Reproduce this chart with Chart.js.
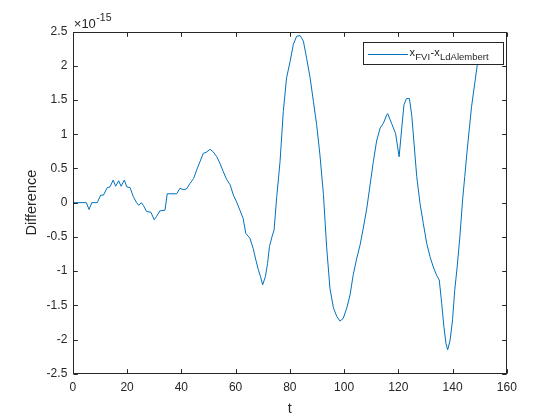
<!DOCTYPE html>
<html>
<head>
<meta charset="utf-8">
<script src="https://cdn.jsdelivr.net/npm/chart.js@4.4.1/dist/chart.umd.min.js"></script>
<style>
html,body{margin:0;padding:0;background:#ffffff;}
#wrap{width:560px;height:420px;}
</style>
</head>
<body>
<div id="wrap"><canvas id="c" width="560" height="420"></canvas></div>
<script>
// ---- data (values in units of 1e-15) ----
const tValues = [
  0,5,6,7,9,10.3,11.3,12.7,13.7,14.9,
  15.8,16.9,17.8,19,19.9,21.1,22.3,23.5,24.3,25.3,
  26,27.2,28.8,30,30.9,32.1,34,34.8,38.3,39.5,
  40.7,41.9,43.2,44.5,45.7,46.9,48.1,49.4,50.6,51.8,
  53.1,54.3,55.5,56.7,58,59.2,60.4,61.6,62.8,63.8,
  65.3,66.5,67.5,68.4,69.2,70,71,71.8,72.5,73.5,
  74.2,75.2,76.4,77.6,78.8,80.1,81.3,82.5,83.8,85,
  86.2,87.5,88.7,89.9,91.1,92.4,93.6,94.8,96.1,97.3,
  98.5,99.7,101,102.2,103.4,104.7,105.9,107.1,108.4,109.6,
  110.8,112,113.3,114.5,115.7,116.1,117.5,119,120.3,121.2,
  122.1,123,124.1,125,126.2,126.8,128,129.2,130.5,131.7,
  132.9,134.1,135.1,136,136.8,137.6,138.2,139.1,140,140.8,
  141.7,142.7,143.7,144.5,145.4,147,148.9,150
];
const diffValues = [
  0,0,-0.1,0,0,0.11,0.11,0.22,0.23,0.33,
  0.24,0.32,0.24,0.33,0.23,0.22,0.09,0,-0.04,0,
  -0.04,-0.13,-0.14,-0.25,-0.2,-0.12,-0.11,0.13,0.13,0.21,
  0.19,0.2,0.28,0.35,0.48,0.6,0.72,0.74,0.78,0.74,
  0.67,0.57,0.45,0.34,0.26,0.11,0.01,-0.11,-0.23,-0.45,
  -0.52,-0.67,-0.84,-0.98,-1.08,-1.2,-1.08,-0.89,-0.64,-0.49,
  -0.4,0.09,0.6,1.33,1.82,2.06,2.31,2.43,2.44,2.36,
  2.11,1.82,1.48,1.14,0.7,0.12,-0.66,-1.25,-1.54,-1.66,
  -1.73,-1.69,-1.54,-1.35,-1.05,-0.81,-0.62,-0.37,-0.08,0.26,
  0.6,0.9,1.09,1.16,1.28,1.3,1.16,1.01,0.67,1.06,
  1.43,1.52,1.52,1.26,0.67,0.38,-0.01,-0.3,-0.6,-0.79,
  -0.94,-1.06,-1.13,-1.47,-1.81,-2.06,-2.15,-2.01,-1.71,-1.28,
  -0.94,-0.5,0.04,0.38,0.77,1.4,1.95,2.3
];
const xTicks = [0,20,40,60,80,100,120,140,160];
const yTicks = [-2.5,-2,-1.5,-1,-0.5,0,0.5,1,1.5,2,2.5];
const yExponentBase = '\u00d710';
const yExponent = '-15';
const xTitle = 't';
const yTitle = 'Difference';
const legendParts = [['x',false],['FVI',true],['-x',false],['LdAlembert',true]];

const FONT = "'Liberation Sans', Arial, Helvetica, sans-serif";
const AXC = '#262626';
const LINEC = '#0072BD';

const matlabFrame = {
  id: 'matlabFrame',
  afterDatasetsDraw(chart) {
    const {ctx, chartArea: a, scales: {x, y}} = chart;
    ctx.save();
    ctx.strokeStyle = AXC;
    ctx.lineWidth = 1;
    const L = 4.3;
    const l = Math.round(a.left) + 0.5, r = Math.round(a.right) - 0.5;
    const tp = Math.round(a.top) + 0.5, b = Math.round(a.bottom) - 0.5;
    ctx.beginPath();
    x.ticks.forEach(t => {
      const px = Math.round(x.getPixelForValue(t.value)) + 0.5;
      ctx.moveTo(px, b); ctx.lineTo(px, b - L);
      ctx.moveTo(px, tp); ctx.lineTo(px, tp + L);
    });
    y.ticks.forEach(t => {
      const py = Math.round(y.getPixelForValue(t.value)) + 0.5;
      ctx.moveTo(l, py); ctx.lineTo(l + L, py);
      ctx.moveTo(r, py); ctx.lineTo(r - L, py);
    });
    ctx.stroke();
    ctx.strokeRect(l, tp, r - l, b - tp);

    // exponent label
    ctx.fillStyle = AXC;
    ctx.textBaseline = 'alphabetic';
    ctx.textAlign = 'left';
    ctx.font = '13px ' + FONT;
    ctx.fillText(yExponentBase, a.left + 1, 27.5);
    const w = ctx.measureText(yExponentBase).width;
    ctx.font = '10.5px ' + FONT;
    ctx.fillText(yExponent, a.left + 1 + w + 0.5, 21);

    // legend
    const bx = 363.5, by = 42.5, bw = 140, bh = 22;
    ctx.fillStyle = '#ffffff';
    ctx.fillRect(bx, by, bw, bh);
    ctx.strokeStyle = AXC;
    ctx.strokeRect(bx, by, bw, bh);
    ctx.strokeStyle = LINEC;
    ctx.beginPath();
    ctx.moveTo(368, 54.5); ctx.lineTo(408, 54.5);
    ctx.stroke();
    ctx.fillStyle = AXC;
    let cx = 409.5;
    legendParts.forEach(([s, sub]) => {
      ctx.font = (sub ? '9.5px ' : '11px ') + FONT;
      ctx.fillText(s, cx, sub ? 60 : 55.5);
      cx += ctx.measureText(s).width + (sub ? 0.5 : 0.3);
    });
    ctx.restore();
  }
};

new Chart(document.getElementById('c'), {
  type: 'line',
  data: {
    datasets: [{
      label: 'x_{FVI}-x_{LdAlembert}',
      data: tValues.map((t, i) => ({x: t, y: diffValues[i]})),
      borderColor: LINEC,
      backgroundColor: LINEC,
      borderWidth: 1,
      pointRadius: 0,
      fill: false,
      tension: 0
    }]
  },
  options: {
    responsive: false,
    devicePixelRatio: 1,
    animation: false,
    events: [],
    layout: {padding: {left: 0, right: 53.2, top: 31.5, bottom: 0}},
    plugins: {legend: {display: false}, tooltip: {enabled: false}},
    scales: {
      x: {
        type: 'linear', min: 0, max: 160,
        afterBuildTicks: s => { s.ticks = xTicks.map(v => ({value: v})); },
        afterFit: s => { s.height = 46.2; },
        grid: {display: false, drawTicks: false},
        border: {display: false},
        ticks: {color: AXC, font: {family: FONT, size: 12}, padding: 7, maxRotation: 0, autoSkip: false,
                callback: v => String(v)},
        title: {display: true, text: xTitle, color: AXC, font: {family: FONT, size: 14.5}, padding: {top: 0, bottom: 2.3}}
      },
      y: {
        type: 'linear', min: -2.5, max: 2.5,
        afterBuildTicks: s => { s.ticks = yTicks.map(v => ({value: v})); },
        afterFit: s => { s.width = 72.8; },
        grid: {display: false, drawTicks: false},
        border: {display: false},
        ticks: {color: AXC, font: {family: FONT, size: 12}, padding: 5.5, autoSkip: false,
                callback: v => String(v)},
        title: {display: true, text: yTitle, color: AXC, font: {family: FONT, size: 14.5}, padding: {top: 23.3, bottom: 0}}
      }
    }
  },
  plugins: [matlabFrame]
});
</script>
</body>
</html>
